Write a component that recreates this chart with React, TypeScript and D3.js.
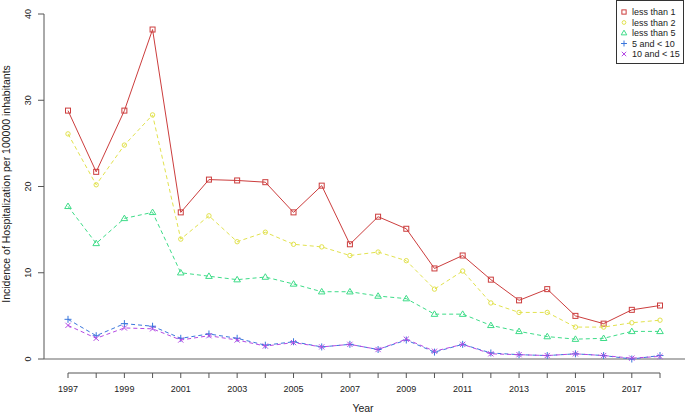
import React from "react";
import * as d3 from "d3";

const years = [1997, 1998, 1999, 2000, 2001, 2002, 2003, 2004, 2005, 2006, 2007, 2008, 2009, 2010, 2011, 2012, 2013, 2014, 2015, 2016, 2017, 2018];

const lessThan1 = [28.8, 21.7, 28.8, 38.2, 17.0, 20.8, 20.7, 20.5, 17.0, 20.1, 13.3, 16.5, 15.1, 10.5, 12.0, 9.2, 6.8, 8.1, 5.0, 4.1, 5.7, 6.2];
const lessThan2 = [26.1, 20.2, 24.8, 28.3, 13.9, 16.6, 13.6, 14.7, 13.3, 13.0, 12.0, 12.4, 11.4, 8.1, 10.2, 6.5, 5.4, 5.4, 3.7, 3.7, 4.2, 4.5];
const lessThan5 = [17.7, 13.4, 16.3, 17.0, 10.0, 9.6, 9.2, 9.5, 8.7, 7.8, 7.8, 7.3, 7.0, 5.2, 5.2, 3.9, 3.2, 2.6, 2.3, 2.4, 3.2, 3.2];
const from5to10 = [4.6, 2.7, 4.1, 3.8, 2.4, 2.9, 2.4, 1.6, 2.0, 1.4, 1.7, 1.1, 2.2, 0.8, 1.7, 0.7, 0.5, 0.4, 0.6, 0.4, 0.0, 0.4];
const from10to15 = [3.9, 2.4, 3.6, 3.5, 2.2, 2.7, 2.2, 1.5, 1.9, 1.4, 1.7, 1.1, 2.3, 0.9, 1.7, 0.6, 0.5, 0.4, 0.6, 0.4, 0.1, 0.3];

const seriesNames = ["less than 1", "less than 2", "less than 5", "5 and < 10", "10 and < 15"];
const yTicks = [0, 10, 20, 30, 40];
const xLabelYears = [1997, 1999, 2001, 2003, 2005, 2007, 2009, 2011, 2013, 2015, 2017];

const font = "'Liberation Sans', Arial, sans-serif";

const series = [
  { name: seriesNames[0], values: lessThan1, color: "#cc3d3d", dash: undefined, shape: "square" },
  { name: seriesNames[1], values: lessThan2, color: "#e2e24e", dash: "4,3", shape: "circle" },
  { name: seriesNames[2], values: lessThan5, color: "#3edc88", dash: "4,3", shape: "triangle" },
  { name: seriesNames[3], values: from5to10, color: "#3a76dc", dash: "4,3", shape: "plus" },
  { name: seriesNames[4], values: from10to15, color: "#b54ae4", dash: "4,3", shape: "cross" },
];

function Marker({ shape, x, y, color, k = 1 }: { shape: string; x: number; y: number; color: string; k?: number }) {
  const p = { fill: "none", stroke: color, strokeWidth: 1 };
  if (shape === "square") return <rect x={x - 2.5 * k} y={y - 2.5 * k} width={5 * k} height={5 * k} {...p} />;
  if (shape === "circle") return <circle cx={x} cy={y} r={2.2 * k} {...p} />;
  if (shape === "triangle") return <path d={`M${x},${y - 3.3 * k}L${x + 3.3 * k},${y + 2.2 * k}L${x - 3.3 * k},${y + 2.2 * k}Z`} {...p} />;
  if (shape === "plus") return <path d={`M${x - 3.5 * k},${y}H${x + 3.5 * k}M${x},${y - 3.5 * k}V${y + 3.5 * k}`} {...p} />;
  return <path d={`M${x - 2.6 * k},${y - 2.6 * k}L${x + 2.6 * k},${y + 2.6 * k}M${x - 2.6 * k},${y + 2.6 * k}L${x + 2.6 * k},${y - 2.6 * k}`} {...p} />;
}

export default function App() {
  const width = 685, height = 415;
  const x = d3.scaleLinear().domain([1997, 2018]).range([68, 660]);
  const y = d3.scaleLinear().domain([0, 40]).range([359, 14]);
  const line = d3.line<number>().x((_, i) => x(years[i])).y((d) => y(d));
  const axisColor = "#555";

  return (
    <svg width={width} height={height} style={{ position: "absolute", left: 0, top: 0, background: "#fff" }} fontFamily={font}>
      {/* y axis */}
      <line x1={44} x2={44} y1={y(0)} y2={y(40)} stroke={axisColor} />
      {yTicks.map((t) => (
        <g key={t}>
          <line x1={38} x2={44} y1={y(t)} y2={y(t)} stroke={axisColor} />
          <text transform={`translate(31,${y(t)}) rotate(-90)`} textAnchor="middle" fontSize={9} fill="#222">{t}</text>
        </g>
      ))}
      <text transform={`translate(10,184) rotate(-90)`} textAnchor="middle" fontSize={10.5} fill="#222">
        Incidence of Hospitalization per 100000 inhabitants
      </text>
      {/* zero reference line */}
      <line x1={44} x2={width} y1={y(0)} y2={y(0)} stroke="#666" strokeWidth={1.2} />
      {/* x axis */}
      <line x1={x(1997)} x2={x(2018)} y1={373} y2={373} stroke={axisColor} />
      {years.map((yr) => (
        <line key={yr} x1={x(yr)} x2={x(yr)} y1={373} y2={378} stroke={axisColor} />
      ))}
      {xLabelYears.map((yr) => (
        <text key={yr} x={x(yr)} y={392} textAnchor="middle" fontSize={9} fill="#222">{yr}</text>
      ))}
      <text x={363} y={412} textAnchor="middle" fontSize={10.5} fill="#222">Year</text>
      {/* series */}
      {series.map((s) => (
        <g key={s.name}>
          <path d={line(s.values) || ""} fill="none" stroke={s.color} strokeWidth={1} strokeDasharray={s.dash} />
          {s.values.map((v, i) => (
            <Marker key={i} shape={s.shape} x={x(years[i])} y={y(v)} color={s.color} />
          ))}
        </g>
      ))}
      {/* legend */}
      <rect x={616.5} y={0.5} width={67} height={63} fill="#fff" stroke="#333" />
      {series.map((s, i) => (
        <g key={s.name}>
          <Marker shape={s.shape} x={624} y={12 + i * 10.5} color={s.color} k={0.85} />
          <text x={632} y={15.2 + i * 10.5} fontSize={9} fill="#222">{s.name}</text>
        </g>
      ))}
    </svg>
  );
}
